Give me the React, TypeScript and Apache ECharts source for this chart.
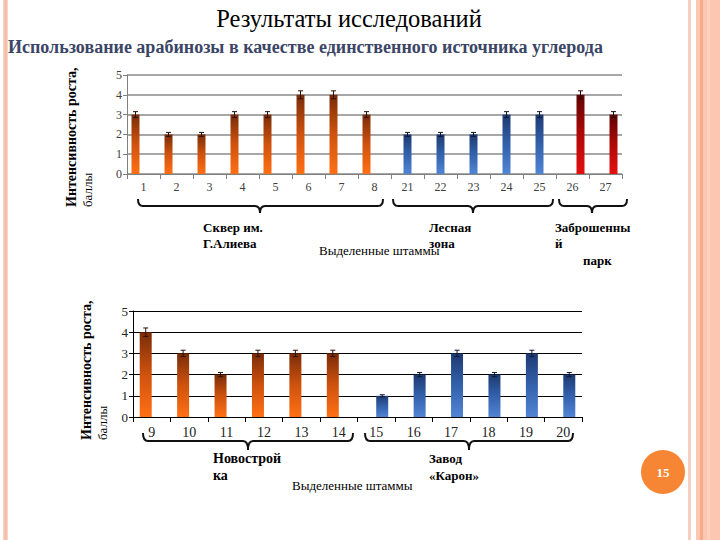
import React, { useEffect, useRef } from "react";
import * as echarts from "echarts";

// Upper chart: strains 1–8 (Сквер им. Г.Алиева), 21–25 (Лесная зона), 26–27 (Заброшенный парк)
const topCategories = ["1", "2", "3", "4", "5", "6", "7", "8", "21", "22", "23", "24", "25", "26", "27"];
const squareValues = [3, 2, 2, 3, 3, 4, 4, 3];
const squareErrors = [0.15, 0.1, 0.1, 0.15, 0.15, 0.2, 0.2, 0.15];
const forestValues = [2, 2, 2, 3, 3];
const forestErrors = [0.1, 0.1, 0.1, 0.15, 0.15];
const parkValues = [4, 3];
const parkErrors = [0.2, 0.15];

// Lower chart: strains 9–14 (Новостройка), 15–20 (Завод «Карон»)
const bottomCategories = ["9", "10", "11", "12", "13", "14", "15", "16", "17", "18", "19", "20"];
const newBuildValues = [4, 3, 2, 3, 3, 3];
const newBuildErrors = [0.2, 0.15, 0.1, 0.15, 0.15, 0.15];
const factoryValues = [1, 2, 3, 2, 3, 2];
const factoryErrors = [0.05, 0.1, 0.15, 0.1, 0.15, 0.1];

const SERIF = "'Liberation Serif', 'Times New Roman', serif";

function pad(values: number[], start: number, total: number) {
  const out: (number | null)[] = [];
  for (let i = 0; i < total; i++) {
    const j = i - start;
    out.push(j >= 0 && j < values.length ? values[j] : null);
  }
  return out;
}

function errData(values: number[], errs: number[], start: number) {
  return values.map((v, i) => [start + i, v, errs[i]]);
}

function grad(top: string, mid: string, bottom: string) {
  return new echarts.graphic.LinearGradient(0, 0, 0, 1, [
    { offset: 0, color: top },
    { offset: 0.5, color: mid },
    { offset: 1, color: bottom },
  ]);
}

function errSeries(data: number[][], offset: number, xi: number, color: string) {
  return {
    type: "custom",
    xAxisIndex: xi,
    yAxisIndex: xi,
    data,
    encode: { x: 0, y: 1 },
    z: 5,
    silent: true,
    renderItem: (params: any, api: any) => {
      const x = api.value(0);
      const v = api.value(1);
      const e = api.value(2);
      const hi = api.coord([x, v + e]);
      const lo = api.coord([x, v - e]);
      const cx = hi[0] + offset;
      const cap = 2.5;
      const st = { stroke: color, lineWidth: 1 };
      return {
        type: "group",
        children: [
          { type: "line", shape: { x1: cx, y1: hi[1], x2: cx, y2: lo[1] }, style: st },
          { type: "line", shape: { x1: cx - cap, y1: hi[1], x2: cx + cap, y2: hi[1] }, style: st },
          { type: "line", shape: { x1: cx - cap, y1: lo[1], x2: cx + cap, y2: lo[1] }, style: st },
        ],
      };
    },
  };
}

function brace(xL: number, xR: number, cx: number, yTop: number, yLine: number, yTip: number) {
  const r = 5;
  const st = { stroke: "#111", lineWidth: 2, fill: null as any };
  return {
    type: "group",
    children: [
      { type: "bezierCurve", shape: { x1: xL, y1: yTop, cpx1: xL, cpy1: yLine, x2: xL + r, y2: yLine }, style: st },
      { type: "line", shape: { x1: xL + r, y1: yLine, x2: cx - r, y2: yLine }, style: st },
      { type: "bezierCurve", shape: { x1: cx - r, y1: yLine, cpx1: cx, cpy1: yLine, x2: cx, y2: yTip }, style: st },
      { type: "bezierCurve", shape: { x1: cx, y1: yTip, cpx1: cx, cpy1: yLine, x2: cx + r, y2: yLine }, style: st },
      { type: "line", shape: { x1: cx + r, y1: yLine, x2: xR - r, y2: yLine }, style: st },
      { type: "bezierCurve", shape: { x1: xR - r, y1: yLine, cpx1: xR, cpy1: yLine, x2: xR, y2: yTop }, style: st },
    ],
  };
}

function label(text: string, x: number, y: number, size: number, bold: boolean) {
  return {
    type: "text",
    x,
    y,
    style: {
      text,
      fill: "#000",
      font: `${bold ? "bold " : ""}${size}px ${SERIF}`,
      align: "left",
      verticalAlign: "middle",
    },
  };
}

function yTitle(x: number, y: number) {
  return {
    type: "text",
    x,
    y,
    rotation: Math.PI / 2,
    style: {
      text: "{b|Интенсивность роста,}\n{n|баллы}",
      align: "left",
      verticalAlign: "top",
      rich: {
        b: { fontFamily: SERIF, fontWeight: "bold", fontSize: 14, lineHeight: 16, fill: "#000" },
        n: { fontFamily: SERIF, fontSize: 13, lineHeight: 16, fill: "#000" },
      },
    },
  };
}

export default function App() {
  const ref = useRef<HTMLDivElement>(null);
  useEffect(() => {
    if (!ref.current) return;
    const chart = echarts.init(ref.current, null, { renderer: "svg" });
    const nTop = topCategories.length;
    const orange = grad("#7a2c08", "#cf520e", "#ff7014");
    const orange2 = grad("#7a2c08", "#cf520e", "#ff7014");
    const blue = grad("#1e3a72", "#3361ab", "#5185d4");
    const blue2 = grad("#1e3a72", "#3361ab", "#5185d4");
    const red = grad("#5e0404", "#b00808", "#e41010");

    const option: any = {
      animation: false,
      backgroundColor: "#fff",
      grid: [
        { left: 127, top: 75, width: 495, height: 99 },
        { left: 133, top: 311, width: 449, height: 106 },
      ],
      xAxis: [
        {
          gridIndex: 0,
          type: "category",
          data: topCategories,
          axisLine: { lineStyle: { color: "#808080", width: 1 } },
          axisTick: { show: true, length: 5, lineStyle: { color: "#808080" } },
          axisLabel: { color: "#404040", fontFamily: SERIF, fontSize: 12, margin: 7 },
        },
        {
          gridIndex: 1,
          type: "category",
          data: bottomCategories,
          axisLine: { lineStyle: { color: "#000", width: 1 } },
          axisTick: { show: true, length: 5, lineStyle: { color: "#000" } },
          axisLabel: { color: "#222", fontFamily: SERIF, fontSize: 14, margin: 8 },
        },
      ],
      yAxis: [
        {
          gridIndex: 0,
          type: "value",
          min: 0,
          max: 5,
          interval: 1,
          axisLine: { show: true, lineStyle: { color: "#808080" } },
          axisTick: { show: true, length: 4, lineStyle: { color: "#808080" } },
          axisLabel: { color: "#404040", fontFamily: SERIF, fontSize: 12, margin: 5 },
          splitLine: { lineStyle: { color: "#8a8a8a", width: 1.5 } },
        },
        {
          gridIndex: 1,
          type: "value",
          min: 0,
          max: 5,
          interval: 1,
          axisLine: { show: true, lineStyle: { color: "#000" } },
          axisTick: { show: true, length: 4, lineStyle: { color: "#000" } },
          axisLabel: { color: "#222", fontFamily: SERIF, fontSize: 13, margin: 5 },
          splitLine: { lineStyle: { color: "#000", width: 1 } },
        },
      ],
      series: [
        {
          type: "bar", xAxisIndex: 0, yAxisIndex: 0, barWidth: 8, barGap: "0%",
          data: pad(squareValues, 0, nTop), itemStyle: { color: orange },
        },
        {
          type: "bar", xAxisIndex: 0, yAxisIndex: 0, barWidth: 8, barGap: "0%",
          data: pad(forestValues, 8, nTop), itemStyle: { color: blue },
        },
        {
          type: "bar", xAxisIndex: 0, yAxisIndex: 0, barWidth: 8, barGap: "0%",
          data: pad(parkValues, 13, nTop), itemStyle: { color: red },
        },
        errSeries(errData(squareValues, squareErrors, 0), -8, 0, "#2a1208"),
        errSeries(errData(forestValues, forestErrors, 8), 0, 0, "#101830"),
        errSeries(errData(parkValues, parkErrors, 13), 8, 0, "#2a0404"),
        {
          type: "bar", xAxisIndex: 1, yAxisIndex: 1, barWidth: 12, barGap: "0%",
          data: pad(newBuildValues, 0, bottomCategories.length), itemStyle: { color: orange2 },
        },
        {
          type: "bar", xAxisIndex: 1, yAxisIndex: 1, barWidth: 12, barGap: "0%",
          data: pad(factoryValues, 6, bottomCategories.length), itemStyle: { color: blue2 },
        },
        errSeries(errData(newBuildValues, newBuildErrors, 0), -6, 1, "#2a1208"),
        errSeries(errData(factoryValues, factoryErrors, 6), 6, 1, "#101830"),
      ],
      graphic: [
        // slide borders
        { type: "rect", shape: { x: 3, y: 0, width: 5, height: 540 }, style: { fill: "#f9d0c2" } },
        { type: "rect", shape: { x: 4.5, y: 0, width: 2, height: 540 }, style: { fill: "#f4b9a3" } },
        { type: "rect", shape: { x: 688, y: 0, width: 3, height: 540 }, style: { fill: "#f7cfc2" } },
        { type: "rect", shape: { x: 696, y: 0, width: 24, height: 540 }, style: { fill: "#fcc6b1" } },
        { type: "rect", shape: { x: 700, y: 0, width: 3, height: 540 }, style: { fill: "#f5aa8b" } },
        { type: "rect", shape: { x: 707, y: 0, width: 3, height: 540 }, style: { fill: "#fdd2c1" } },
        // titles
        {
          type: "text", x: 349, y: 18,
          style: { text: "Результаты исследований", fill: "#000", font: `24.5px ${SERIF}`, align: "center", verticalAlign: "middle" },
        },
        {
          type: "text", x: 8, y: 47,
          style: {
            text: "Использование арабинозы в качестве единственного источника углерода",
            fill: "#3b4566", font: `bold 18px ${SERIF}`, align: "left", verticalAlign: "middle",
          },
        },
        yTitle(63, 207),
        yTitle(78, 440),
        brace(138, 383, 260, 199, 206, 213),
        brace(393, 553, 473, 199, 206, 213),
        brace(559, 627, 592, 199, 206, 213),
        brace(143, 353, 248, 433, 441, 450),
        brace(365, 573, 469, 433, 441, 450),
        label("Сквер им.", 203, 227, 13, true),
        label("Г.Алиева", 203, 243, 13, true),
        label("Выделенные штаммы", 319, 250, 13, false),
        label("Лесная", 429, 227, 13, true),
        label("зона", 429, 243, 13, true),
        label("Заброшенны", 555, 227, 13, true),
        label("й", 555, 243, 13, true),
        label("парк", 583, 260, 13, true),
        label("Новострой", 213, 458, 14, true),
        label("ка", 213, 475, 14, true),
        label("Завод", 429, 458, 13, true),
        label("«Карон»", 429, 475, 13, true),
        label("Выделенные штаммы", 292, 485, 13, false),
        // slide number
        { type: "circle", shape: { cx: 663, cy: 472, r: 22 }, style: { fill: "#f68634" } },
        {
          type: "text", x: 663, y: 472,
          style: { text: "15", fill: "#fff", font: `bold 13px ${SERIF}`, align: "center", verticalAlign: "middle" },
        },
      ],
    };
    chart.setOption(option);
    return () => chart.dispose();
  }, []);
  return (
    <div
      ref={ref}
      style={{ position: "fixed", left: 0, top: 0, width: 720, height: 540 }}
    />
  );
}
